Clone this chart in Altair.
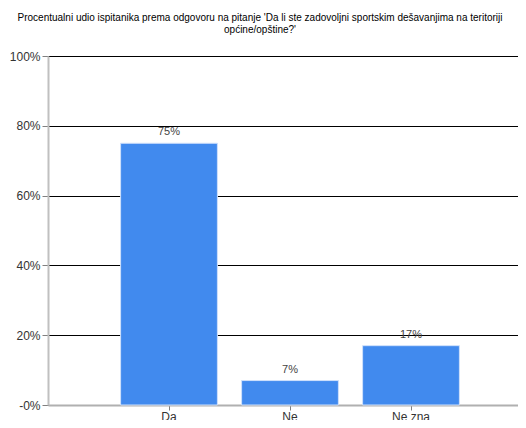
import altair as alt
import pandas as pd

categories = ["Da", "Ne", "Ne zna"]
values = [75, 7, 17]
labels = ["75%", "7%", "17%"]

df = pd.DataFrame({"cat": categories, "val": values, "lab": labels})

title_lines = [
    "Procentualni udio ispitanika prema odgovoru na pitanje 'Da li ste zadovoljni sportskim dešavanjima na teritoriji",
    "općine/opštine?'",
]

FONT = "Liberation Sans"

x = alt.X(
    "cat:N",
    sort=categories,
    title=None,
    scale=alt.Scale(paddingInner=0.2, paddingOuter=0.6, range=[0, 484]),
    axis=alt.Axis(
        labelAngle=0,
        domainColor="#b0b0b0",
        domainWidth=2,
        tickColor="#808080",
        tickSize=5,
        labelFontSize=12,
        labelColor="#333333",
        labelFont=FONT,
        labelPadding=1,
        grid=False,
    ),
)
y = alt.Y(
    "val:Q",
    title=None,
    scale=alt.Scale(domain=[0, 100]),
    axis=alt.Axis(
        values=[0, 20, 40, 60, 80, 100],
        labelExpr="datum.value == 0 ? '-0%' : datum.value + '%'",
        grid=True,
        gridColor="#000000",
        gridWidth=1,
        domainColor="#c0c0c0",
        domainWidth=2,
        tickColor="#808080",
        tickSize=6,
        labelFontSize=12,
        labelColor="#333333",
        labelFont=FONT,
        labelPadding=2,
    ),
)

bars = alt.Chart(df).mark_bar(color="#418AEE", stroke="#cfe0fb", strokeWidth=1).encode(x=x, y=y)
text = alt.Chart(df).mark_text(
    baseline="bottom", dy=-6, fontSize=11, color="#444444", font=FONT
).encode(x=x, y=y, text="lab:N")

chart = (
    alt.layer(bars, text)
    .properties(
        width=470,
        height=349,
        autosize=alt.AutoSizeParams(type="none"),
        padding={"left": 40, "top": 48, "right": 0, "bottom": 15},
        title=alt.TitleParams(
            text=title_lines,
            fontSize=10,
            font=FONT,
            fontWeight="normal",
            color="#000000",
            anchor="middle",
            dx=-23,
            offset=15,
            lineHeight=12,
        ),
    )
    .configure_view(stroke=None)
)

chart.save("out.html", embed_options={"renderer": "svg", "actions": False})
